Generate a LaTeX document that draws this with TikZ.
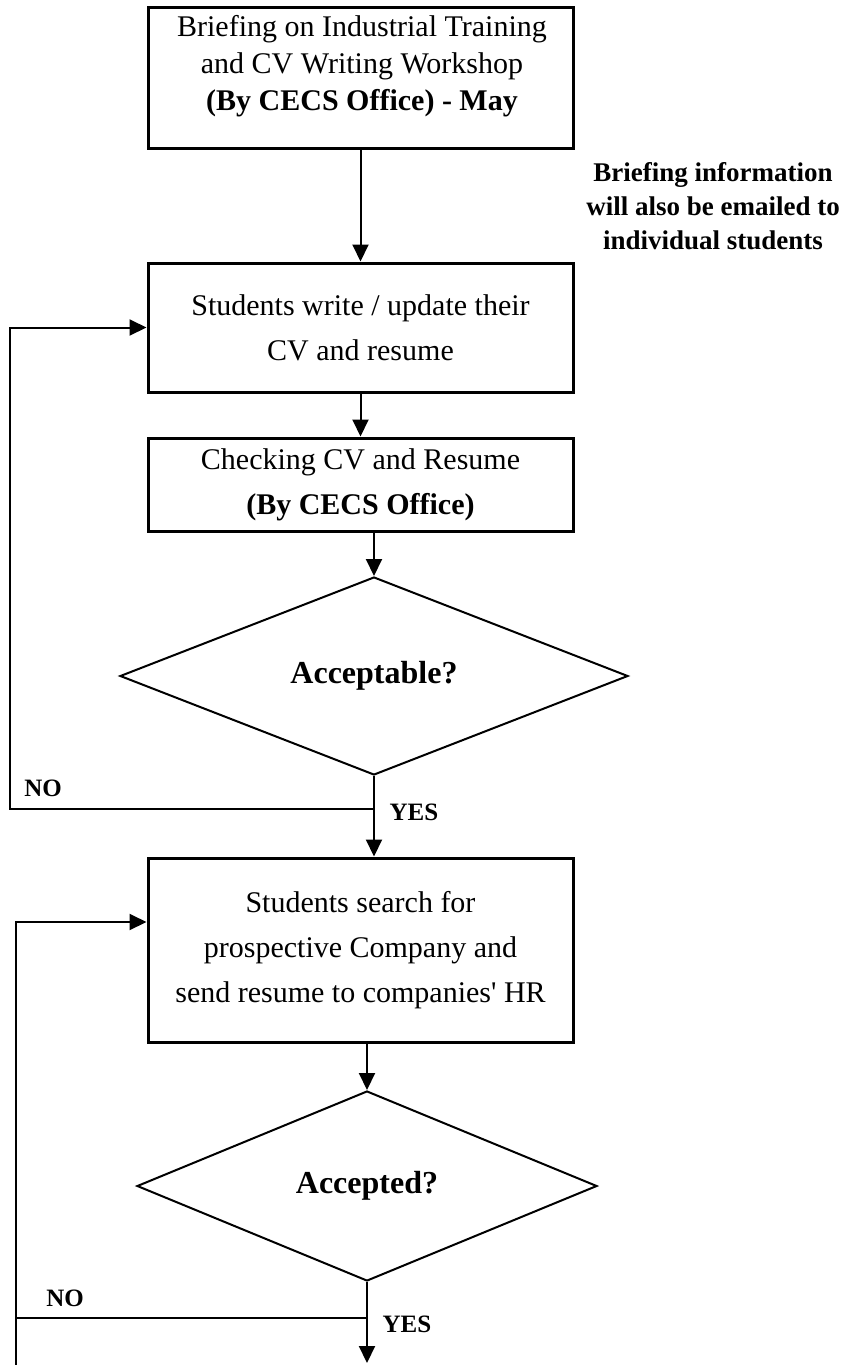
\documentclass[tikz,border=0pt]{standalone}
\usepackage{fontspec}
\setmainfont{Liberation Serif}
\usetikzlibrary{shapes.geometric, arrows.meta, calc}

\begin{document}
\begin{tikzpicture}[x=1pt, y=-1pt,
    % Process box
    procbox/.style={
        rectangle,
        draw=black,
        line width=3pt,
        minimum width=425pt,
        inner sep=0pt,
        align=center,
        font=\fontsize{30}{45}\selectfont
    },
    % Decision diamond
    decision/.style={
        diamond,
        draw=black,
        line width=2pt,
        inner sep=0pt,
        font=\fontsize{32}{38}\selectfont\bfseries
    },
    % Arrow style
    arrow/.style={
        -{Triangle[length=17pt, width=16pt]},
        line width=2pt
    },
    link/.style={
        line width=2pt
    },
    % Yes / no labels
    answer/.style={
        font=\fontsize{25}{30}\selectfont\bfseries
    }
]
\useasboundingbox (0,0) rectangle (853,1365);

% === Step 1: Briefing ===
\node[procbox, minimum height=141pt] (brief) at (360.5,77.5) {};
\node[font=\fontsize{30}{37}\selectfont, align=center] (briefText) at (362,66)
    {Briefing on Industrial Training\\and CV Writing Workshop\\\textbf{(By CECS Office) - May}};

\node[font=\fontsize{27}{34}\selectfont\bfseries, align=center] (note) at (713,206)
    {Briefing information\\will also be emailed to\\individual students};

% === Step 2: CV ===
\node[procbox, minimum height=129pt] (write) at (360.5,327.5)
    {Students write / update their\\CV and resume};
\node[procbox, minimum height=93pt] (check) at (360.5,484.5)
    {Checking CV and Resume\\\textbf{(By CECS Office)}};
\node[decision, minimum width=508pt, minimum height=198pt] (acceptable) at (374,676) {Acceptable?};

% === Step 3: Company ===
\node[procbox, minimum height=184pt] (search) at (360.5,950)
    {Students search for\\prospective Company and\\send resume to companies\textquotesingle{} HR};
\node[decision, minimum width=460pt, minimum height=190pt] (accepted) at (367,1186) {Accepted?};

% === Loop points ===
\coordinate (loopA) at (10,809);
\coordinate (loopB) at (16,1318);
\coordinate (loopBase) at (16,1365);
\coordinate (exit) at (367,1363);

% === Arrows ===
\draw[arrow] (brief.south) -- (write.north);
\draw[arrow] (write.south) -- (check.north);
\draw[arrow] (check.south -| acceptable.north) -- (acceptable.north);
\draw[arrow] (acceptable.south) -- (acceptable.south |- search.north);
\draw[arrow] (search.south -| accepted.north) -- (accepted.north);
\draw[arrow] (accepted.south) -- (exit);

\draw[arrow] (acceptable.south |- loopA) -- (loopA) |- (write.west);
\draw[link] (accepted.south |- loopB) -- (loopB);
\draw[arrow] (loopBase) |- ([yshift=28pt]search.west);

% === Labels ===
\node[answer] (no1) at (43,788) {NO};
\node[answer] (yes1) at (414,812) {YES};
\node[answer] (no2) at (65,1298) {NO};
\node[answer] (yes2) at (407,1324) {YES};

\end{tikzpicture}
\end{document}
